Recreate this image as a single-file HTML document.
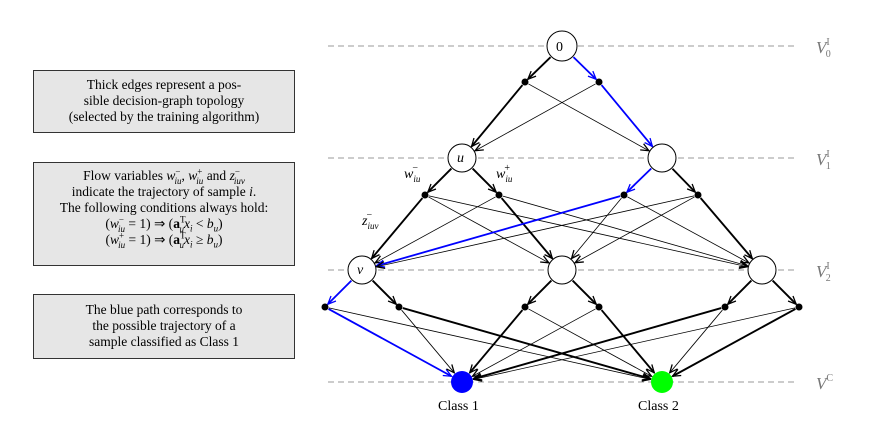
<!DOCTYPE html>
<html><head><meta charset="utf-8"><style>
body{margin:0;background:#fff;width:893px;height:421px;overflow:hidden;position:relative;font-family:"Liberation Serif",serif;}
.box{position:absolute;left:33px;width:262px;background:#e6e6e6;border:1.3px solid #333;text-align:center;font-size:13.5px;line-height:16px;color:#000;box-sizing:border-box;}
i{font-style:italic}
sub,sup{font-size:9px;line-height:0}
svg{position:absolute;left:0;top:0}
</style></head><body>
<div class="box" style="top:70px;height:63px;padding-top:6px">Thick edges represent a pos-<br>sible decision-graph topology<br>(selected by the training algorithm)</div>
<div class="box" style="top:162px;height:104px;padding-top:5px">Flow variables <i>w</i><sup>−</sup><sub style="margin-left:-6px"><i>iu</i></sub>, <i>w</i><sup>+</sup><sub style="margin-left:-6px"><i>iu</i></sub> and <i>z</i><sup>−</sup><sub style="margin-left:-6px"><i>iuv</i></sub><br>indicate the trajectory of sample <i>i</i>.<br>The following conditions always hold:<br>(<i>w</i><sup>−</sup><sub style="margin-left:-6px"><i>iu</i></sub> = 1) ⇒ (<b>a</b><sup>T</sup><sub style="margin-left:-6px"><i>u</i></sub><i>x<sub>i</sub></i> &lt; <i>b<sub>u</sub></i>)<br>(<i>w</i><sup>+</sup><sub style="margin-left:-6px"><i>iu</i></sub> = 1) ⇒ (<b>a</b><sup>T</sup><sub style="margin-left:-6px"><i>u</i></sub><i>x<sub>i</sub></i> ≥ <i>b<sub>u</sub></i>)</div>
<div class="box" style="top:294px;height:65px;padding-top:7px">The blue path corresponds to<br>the possible trajectory of a<br>sample classified as Class 1</div>
<svg id="s" width="893" height="421" xmlns="http://www.w3.org/2000/svg">
<defs>
<marker id="ak" markerWidth="10" markerHeight="10" refX="9" refY="5" orient="auto" markerUnits="userSpaceOnUse"><path d="M1,1.5 L9,5 L1,8.5" fill="none" stroke="#000" stroke-width="1.3"/></marker>
<marker id="ab" markerWidth="10" markerHeight="10" refX="9" refY="5" orient="auto" markerUnits="userSpaceOnUse"><path d="M1,1.5 L9,5 L1,8.5" fill="none" stroke="#00f" stroke-width="1.3"/></marker>
</defs>
<g stroke="#999" stroke-dasharray="6,4" stroke-width="1">
<line x1="328" y1="46" x2="797" y2="46"/><line x1="328" y1="158" x2="797" y2="158"/>
<line x1="328" y1="270" x2="797" y2="270"/><line x1="328" y1="382" x2="797" y2="382"/>
</g>
<g id="edges"></g>
<g id="nodes"></g>
<g font-family="Liberation Serif,serif" fill="#777" font-size="17" font-style="italic">
<text x="816" y="53">V<tspan font-size="10" font-style="normal" dy="-8">I</tspan><tspan font-size="10" font-style="normal" dx="-4" dy="12">0</tspan></text>
<text x="816" y="165">V<tspan font-size="10" font-style="normal" dy="-8">I</tspan><tspan font-size="10" font-style="normal" dx="-4" dy="12">1</tspan></text>
<text x="816" y="277">V<tspan font-size="10" font-style="normal" dy="-8">I</tspan><tspan font-size="10" font-style="normal" dx="-4" dy="12">2</tspan></text>
<text x="816" y="389">V<tspan font-size="10" font-style="normal" dy="-8">C</tspan></text>
</g>
<g font-family="Liberation Serif,serif" font-size="14" fill="#000">
<text x="556" y="51">0</text>
<text x="457" y="162" font-style="italic">u</text>
<text x="357" y="274" font-style="italic">v</text>
<text x="404" y="178" font-style="italic">w<tspan font-size="9" dy="4">iu</tspan><tspan font-size="10" dx="-8" dy="-11" font-style="normal">−</tspan></text>
<text x="496" y="178" font-style="italic">w<tspan font-size="9" dy="4">iu</tspan><tspan font-size="10" dx="-8" dy="-11" font-style="normal">+</tspan></text>
<text x="362" y="225" font-style="italic">z<tspan font-size="9" dy="4">iuv</tspan><tspan font-size="10" dx="-12" dy="-11" font-style="normal">−</tspan></text>
<text x="438" y="410">Class 1</text>
<text x="638" y="410">Class 2</text>
</g>
</svg>
<script>
var N={n0:[562,46,15],u:[462,158,14],r1:[662,158,14],v:[362,270,14],m2:[562,270,14],r2:[762,270,14],c1:[462,382,11],c2:[662,382,11]};
var D={a:[525,82],b:[599,82],c:[425,195],d:[499,195],e:[624,195],f:[698,195],g:[325,307],h:[399,307],i:[525,307],j:[599,307],k:[725,307],l:[799,307]};
var E=[];
function T(f,t,w){E.push([f,t,w]);}
// node->dots
T('n0','a',2);T('n0','b','B');
T('u','c',2);T('u','d',2);T('r1','e','B');T('r1','f',2);
T('v','g','B');T('v','h',2);T('m2','i',2);T('m2','j',2);T('r2','k',2);T('r2','l',2);
// dots->nodes
T('a','u',2);T('a','r1',1);T('b','r1','B');T('b','u',1);
T('c','v',2);T('c','m2',1);T('c','r2',1);
T('d','v',1);T('d','m2',2);T('d','r2',1);
T('e','v','B');T('e','m2',1);T('e','r2',1);
T('f','v',1);T('f','m2',1);T('f','r2',2);
T('g','c1','B');T('g','c2',1);T('h','c1',1);T('h','c2',2);
T('i','c1',2);T('i','c2',1);T('j','c1',1);T('j','c2',2);
T('k','c1',2);T('k','c2',1);T('l','c1',1);T('l','c2',2);
var s='';
function P(k){return N[k]?N[k]:[D[k][0],D[k][1],3];}
E.forEach(function(e){var a=P(e[0]),b=P(e[1]);var dx=b[0]-a[0],dy=b[1]-a[1],L=Math.sqrt(dx*dx+dy*dy);
var ux=dx/L,uy=dy/L;var x1=a[0]+ux*(a[2]+1),y1=a[1]+uy*(a[2]+1),x2=b[0]-ux*(b[2]+1),y2=b[1]-uy*(b[2]+1);
var blue=e[2]=='B',w=blue?1.8:(e[2]==2?1.9:0.8);
s+='<line x1="'+x1+'" y1="'+y1+'" x2="'+x2+'" y2="'+y2+'" stroke="'+(blue?'#00f':'#000')+'" stroke-width="'+w+'" marker-end="url(#'+(blue?'ab':'ak')+')"/>';});
document.getElementById('edges').innerHTML=s;
var t='';
for(var k in D)t+='<circle cx="'+D[k][0]+'" cy="'+D[k][1]+'" r="3.5" fill="#000"/>';
['n0','u','r1','v','m2','r2'].forEach(function(k){var n=N[k];t+='<circle cx="'+n[0]+'" cy="'+n[1]+'" r="'+n[2]+'" fill="#fff" stroke="#000" stroke-width="1"/>';});
t+='<circle cx="462" cy="382" r="11" fill="#00f"/><circle cx="662" cy="382" r="11" fill="#0f0"/>';
document.getElementById('nodes').innerHTML=t;
</script>
</body></html>
